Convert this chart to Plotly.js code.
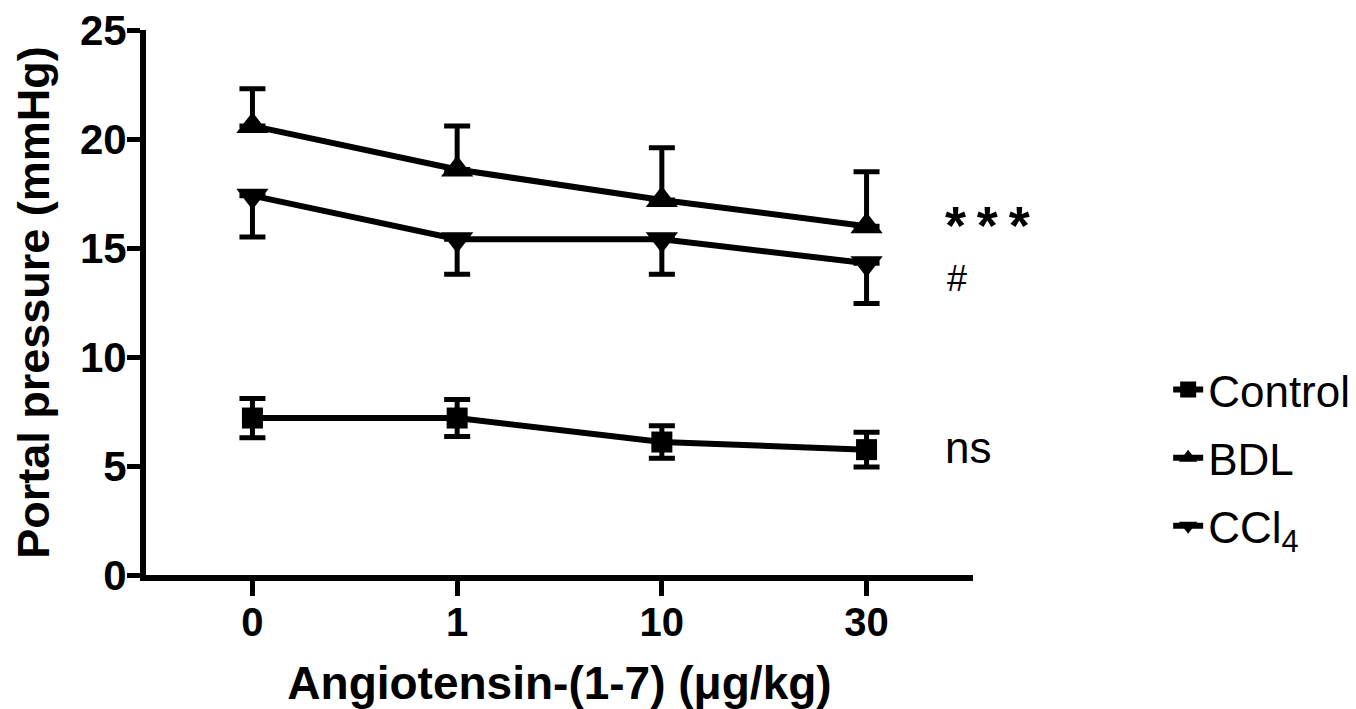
<!DOCTYPE html>
<html>
<head>
<meta charset="utf-8">
<script src="https://cdn.plot.ly/plotly-3.0.1.min.js"></script>
<style>html,body{margin:0;padding:0;background:#fff;}#chart{width:1356px;height:709px;}</style>
</head>
<body>
<div id="chart"></div>
<script>
// Data
const doses = ['0', '1', '10', '30'];

const controlMean = [7.2, 7.2, 6.1, 5.75];
const controlErr  = [0.9, 0.85, 0.75, 0.8];

const bdlMean   = [20.6, 18.6, 17.2, 16.0];
const bdlErrUp  = [1.7, 2.0, 2.4, 2.5];

const cclMean    = [17.4, 15.4, 15.4, 14.3];
const cclErrDown = [1.9, 1.6, 1.6, 1.85];

const zeros = [0, 0, 0, 0];

const seriesNames = ['Control', 'BDL', 'CCl<sub>4</sub>'];

const lineStyle = {color: '#000', width: 6};
function errStyle(plus, minus) {
  return {type: 'data', symmetric: false, array: plus, arrayminus: minus,
          color: '#000', thickness: 5, width: 13};
}

const traces = [
  {x: doses, y: controlMean, name: seriesNames[0], legendgroup: 'a', mode: 'lines+markers',
   line: lineStyle, marker: {symbol: 'square', size: 21, color: '#000'},
   error_y: errStyle(controlErr, controlErr)},
  {x: doses, y: bdlMean, name: seriesNames[1], legendgroup: 'b', mode: 'lines+markers',
   line: lineStyle, marker: {symbol: 'triangle-up', size: 28, color: '#000'},
   error_y: errStyle(bdlErrUp, zeros)},
  {x: doses, y: cclMean, name: seriesNames[2], legendgroup: 'c', mode: 'lines+markers',
   line: lineStyle, marker: {symbol: 'triangle-down', size: 28, color: '#000'},
   error_y: errStyle(zeros, cclErrDown)}
];

const boldFont = 'Liberation Sans, Arial, sans-serif';

const layout = {
  width: 1356, height: 709,
  paper_bgcolor: '#fff', plot_bgcolor: '#fff',
  margin: {l: 146, r: 383, t: 30, b: 134, autoexpand: false},
  showlegend: true,
  legend: {x: 1.236, y: 0.215, xanchor: 'left', yanchor: 'middle',
           font: {family: boldFont, size: 44, color: '#000'},
           traceorder: 'grouped', tracegroupgap: 8, bgcolor: 'rgba(0,0,0,0)'},
  xaxis: {type: 'category', range: [-0.52, 3.52], automargin: false,
          showline: true, linewidth: 6, linecolor: '#000', mirror: false,
          ticks: 'outside', ticklen: 15, tickwidth: 5, tickcolor: '#000',
          ticklabelstandoff: -8,
          showgrid: false, zeroline: false,
          tickfont: {family: boldFont, size: 40, color: '#000', weight: 'bold'},
          title: {text: '<b>Angiotensin-(1-7) (μg/kg)</b>', standoff: 26,
                  font: {family: boldFont, size: 46, color: '#000'}}},
  yaxis: {range: [0, 25], tickvals: [0, 5, 10, 15, 20, 25], automargin: false,
          showline: true, linewidth: 6, linecolor: '#000',
          ticks: 'outside', ticklen: 13, tickwidth: 5, tickcolor: '#000',
          ticklabelstandoff: -8,
          showgrid: false, zeroline: false,
          tickfont: {family: boldFont, size: 42, color: '#000', weight: 'bold'},
          title: {text: '<b>Portal pressure (mmHg)</b>', standoff: 18,
                  font: {family: boldFont, size: 45, color: '#000'}}},
  annotations: [
    {xref: 'paper', yref: 'y', x: 0.964, y: 16.05, xanchor: 'left', yanchor: 'middle',
     text: '<b>*\u2009*\u2009*</b>', showarrow: false, font: {family: boldFont, size: 54, color: '#000'}},
    {xref: 'paper', yref: 'y', x: 0.966, y: 13.6, xanchor: 'left', yanchor: 'middle',
     text: '#', showarrow: false, font: {family: boldFont, size: 36, color: '#000'}},
    {xref: 'paper', yref: 'y', x: 0.964, y: 5.85, xanchor: 'left', yanchor: 'middle',
     text: 'ns', showarrow: false, font: {family: boldFont, size: 44, color: '#000'}}
  ]
};

Plotly.newPlot('chart', traces, layout, {displayModeBar: false, staticPlot: true});
</script>
</body>
</html>
